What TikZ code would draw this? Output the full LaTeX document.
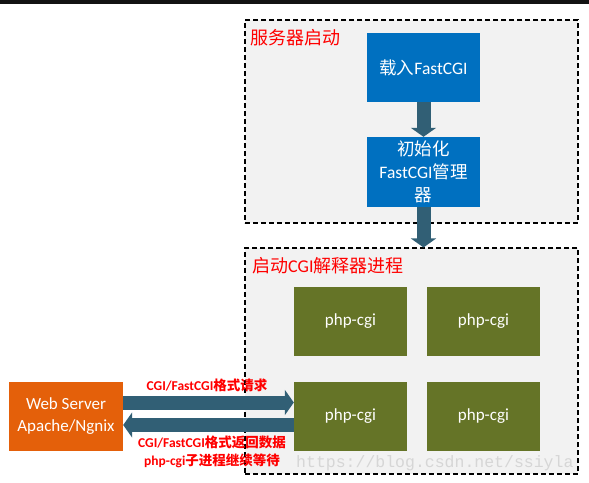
\documentclass[tikz,border=0pt]{standalone}
\usepackage{fontspec}
\setmainfont{Carlito}
\newfontfamily\cjk{Noto Sans CJK SC}
\newfontfamily\wmfont{Liberation Mono}
\usetikzlibrary{arrows.meta,positioning,calc}
\definecolor{loadblue}{RGB}{0,112,192}
\definecolor{cgigreen}{RGB}{101,116,39}
\definecolor{weborange}{RGB}{228,96,10}
\definecolor{flowteal}{RGB}{49,95,117}
\definecolor{stagegray}{RGB}{242,242,242}
\newcommand{\zhtext}[1]{{\cjk #1}}
\tikzset{
  stage/.style={draw=black, fill=stagegray, line width=1.1pt, dash pattern=on 5pt off 3pt, inner sep=0pt},
  stagetitle/.style={anchor=west, text=red, font=\fontsize{18}{20}\selectfont, inner sep=0pt},
  loadbox/.style={fill=loadblue, text=white, minimum width=113pt, minimum height=69pt, inner sep=0pt, align=center, font=\fontsize{17.5}{23}\selectfont},
  cgibox/.style={fill=cgigreen, text=white, minimum width=113pt, minimum height=69pt, inner sep=0pt, font=\fontsize{17}{20}\selectfont},
  webbox/.style={fill=weborange, text=white, minimum width=114pt, minimum height=69pt, inner sep=0pt, align=center, font=\fontsize{17}{22}\selectfont},
  flow/.style={draw=flowteal, line width=14pt, -{Triangle[width=25pt,length=9pt]}},
  note/.style={text=red, inner sep=0pt, align=center, font=\bfseries\fontsize{13.5}{18}\selectfont},
}
\begin{document}
\begin{tikzpicture}[x=1pt, y=-1pt]
  \useasboundingbox (0,0) rectangle (589,482);
  \fill[black!93] (0,0) rectangle (589,3.5);
  % stages
  \node[stage, minimum width=333pt, minimum height=203pt] (boot) at (411.5,121.5) {};
  \node[stage, minimum width=333pt, minimum height=226pt] (start) at (411.5,361) {};
  \node[stagetitle] (boottitle) at (250,38) {\zhtext{服务器启动}};
  \node[stagetitle] (starttitle) at (252,266) {\zhtext{启动}CGI\zhtext{解释器进程}};
  % FastCGI
  \node[loadbox] (load) at (423.5,67.5) {\zhtext{载入}FastCGI};
  \node[loadbox, minimum height=70pt] (init) at (423.5,172) {\zhtext{初始化}\\FastCGI\zhtext{管理}\\\zhtext{器}};
  % php-cgi
  \node[cgibox] (php1) at (350.5,321.5) {php-cgi};
  \node[cgibox] (php2) at (483.5,321.5) {php-cgi};
  \node[cgibox] (php3) at (350.5,416.5) {php-cgi};
  \node[cgibox] (php4) at (483.5,416.5) {php-cgi};
  \node[webbox] (web) at (66,416.5) {Web Server\\Apache/Ngnix};
  \draw[flow] (load) -- (init);
  \draw[flow] (init) -- (init.south |- start.north);
  \coordinate (req) at (0,402.5);
  \coordinate (resp) at (0,425);
  \draw[flow] (web.east |- req) -- (php3.west |- req);
  \draw[flow] (php3.west |- resp) -- (web.east |- resp);
  \node[note] (reqnote) at (207,385) {CGI/FastCGI\zhtext{格式请求}};
  \node[note] (respnote) at (212,452) {CGI/FastCGI\zhtext{格式返回数据}\\php-cgi\zhtext{子进程继续等待}};
  \node[anchor=west, text=black!16, inner sep=0pt, font=\wmfont\fontsize{16.5}{18}\selectfont] (mark) at (296,463) {https://blog.csdn.net/ssiyla};
\end{tikzpicture}
\end{document}
